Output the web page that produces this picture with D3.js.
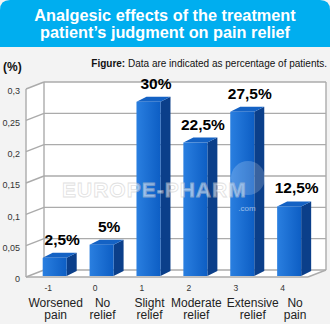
<!DOCTYPE html>
<html><head><meta charset="utf-8">
<script src="https://cdn.jsdelivr.net/npm/d3@7"></script>
<style>
html,body{margin:0;padding:0;background:#f3f3f3;}
svg{display:block;font-family:"Liberation Sans",Arial,sans-serif;}
</style></head>
<body>
<svg id="c" width="330" height="324"></svg>
<script>
const categories = ["-1","0","1","2","3","4"];
const categoryNames = [["Worsened","pain"],["No","relief"],["Slight","relief"],["Moderate","relief"],["Extensive","relief"],["No","pain"]];
const values = [0.029,0.05,0.278,0.213,0.262,0.111];
const valueLabels = ["2,5%","5%","30%","22,5%","27,5%","12,5%"];
const yTicks = [0,0.05,0.1,0.15,0.2,0.25,0.3];
const yTickLabels = ["0","0,05","0,1","0,15","0,2","0,25","0,3"];
const titleLines = ["Analgesic effects of the treatment","patient\u2019s judgment on pain relief"];

const svg = d3.select("#c");
const W = 330, H = 324;
svg.append("rect").attr("width",W).attr("height",H).attr("fill","#f3f3f3");

// title box
svg.append("path")
  .attr("d","M0,47 L0,10 Q0,0 10,0 L320,0 Q330,0 330,10 L330,47 Z")
  .attr("fill","#00aeef");
svg.selectAll("text.title").data(titleLines).join("text")
  .attr("class","title")
  .attr("x",165).attr("y",(d,i)=>21+i*17)
  .attr("text-anchor","middle").attr("fill","#fff")
  .attr("font-size",16.3).attr("font-weight","bold").text(d=>d);

// subtitle
const sub = svg.append("text").attr("x",327).attr("y",67).attr("text-anchor","end")
  .attr("font-size",10).attr("fill","#111");
sub.append("tspan").attr("font-weight","bold").text("Figure:");
sub.append("tspan").text(" Data are indicated as percentage of patients.");
svg.append("text").attr("x",3).attr("y",71).attr("font-size",12).attr("font-weight","bold")
  .attr("fill","#111").text("(%)");

// scales
const x = d3.scaleBand().domain(categories).range([31.25,312.6]).paddingInner(0.488).paddingOuter(0.244);
const y = d3.scaleLinear().domain([0,0.3]).range([277,89]);
const DX = 18, DY = -7;
const xL = 26, xR = 308;

// walls
const g = svg.append("g");
g.append("polygon").attr("fill","#fff")
  .attr("points",[[xL+DX,y(0.3)+DY],[xR+DX,y(0.3)+DY],[xR+DX,y(0)+DY],[xL+DX,y(0)+DY]].join(" "));
g.append("polygon").attr("fill","#fff")
  .attr("points",[[xL,y(0.3)],[xL+DX,y(0.3)+DY],[xL+DX,y(0)+DY],[xL,y(0)]].join(" "));
g.append("polygon").attr("fill","#fff")
  .attr("points",[[xL,y(0)],[xL+DX,y(0)+DY],[xR+DX,y(0)+DY],[xR,y(0)]].join(" "));

const lc = "#ababab", lw = 1.4;
// grid lines
g.selectAll("line.gb").data(yTicks).join("line")
  .attr("x1",xL+DX).attr("x2",xR+DX).attr("y1",d=>y(d)+DY).attr("y2",d=>y(d)+DY)
  .attr("stroke",lc).attr("stroke-width",lw);
g.selectAll("line.gd").data(yTicks).join("line")
  .attr("x1",xL).attr("x2",xL+DX).attr("y1",d=>y(d)).attr("y2",d=>y(d)+DY)
  .attr("stroke",lc).attr("stroke-width",lw);
[[xL,y(0.3),xL,y(0)],[xL+DX,y(0.3)+DY,xL+DX,y(0)+DY],[xR+DX,y(0.3)+DY,xR+DX,y(0)+DY],
 [xL,y(0),xR,y(0)],[xR,y(0),xR+DX,y(0)+DY]].forEach(l=>{
  g.append("line").attr("x1",l[0]).attr("y1",l[1]).attr("x2",l[2]).attr("y2",l[3])
    .attr("stroke",lc).attr("stroke-width",lw);
});

// y axis labels
const yAxis = d3.axisLeft(y).tickValues(yTicks).tickSize(0).tickPadding(0)
  .tickFormat((d,i)=>yTickLabels[i]);
const ya = svg.append("g").attr("transform","translate(20,2)").call(yAxis);
ya.select(".domain").remove();
ya.selectAll("text").attr("font-size",9).attr("fill","#333").attr("font-family","Liberation Sans, Arial, sans-serif");

// bars
const defs = svg.append("defs");
const grad = defs.append("linearGradient").attr("id","fg").attr("x1",0).attr("x2",1).attr("y1",0).attr("y2",0);
grad.append("stop").attr("offset","0%").attr("stop-color","#2a7fe0");
grad.append("stop").attr("offset","100%").attr("stop-color","#0d5ec4");
const bw = x.bandwidth(), bdx = 10, bdy = -5;
const yb = v => y(v) - 1;
const bars = svg.append("g").selectAll("g").data(values).join("g");
bars.append("polygon").attr("fill","#0b3f8a")
  .attr("points",(d,i)=>{const x0=x(categories[i])+bw;return [[x0,yb(d)],[x0+bdx,yb(d)+bdy],[x0+bdx,yb(0)+bdy],[x0,yb(0)]].join(" ");});
bars.append("polygon").attr("fill","#1462c4")
  .attr("points",(d,i)=>{const x0=x(categories[i]);return [[x0,yb(d)],[x0+bdx,yb(d)+bdy],[x0+bw+bdx,yb(d)+bdy],[x0+bw,yb(d)]].join(" ");});
bars.append("rect").attr("fill","url(#fg)")
  .attr("x",(d,i)=>x(categories[i])).attr("width",bw)
  .attr("y",d=>yb(d)).attr("height",d=>yb(0)-yb(d));

// value labels
svg.append("g").selectAll("text").data(values).join("text")
  .attr("x",(d,i)=>x(categories[i])+bw/2+7.5).attr("y",d=>yb(d)-13)
  .attr("text-anchor","middle").attr("font-size",15.5).attr("font-weight","bold")
  .attr("fill","#000").text((d,i)=>valueLabels[i]);

// watermark
const wm = svg.append("g").attr("opacity",0.55);
wm.append("text").attr("x",62).attr("y",197).attr("font-size",21).attr("font-weight","bold")
  .attr("letter-spacing",1).attr("fill","#fff").attr("stroke","#c8c8c8").attr("stroke-width",0.8)
  .text("EUROPE-PHARM");
wm.append("circle").attr("cx",248).attr("cy",178).attr("r",17).attr("fill","#fff").attr("opacity",0.35);
wm.append("text").attr("x",247).attr("y",211).attr("text-anchor","middle").attr("font-size",8)
  .attr("fill","#fff").text(".com");

// x axis numbers
const xAxis = d3.axisBottom(x).tickSize(0).tickPadding(0);
const xa = svg.append("g").attr("transform","translate(-6.5,285)").call(xAxis);
xa.select(".domain").remove();
xa.selectAll("text").attr("font-size",8.5).attr("fill","#333").attr("font-family","Liberation Sans, Arial, sans-serif");

// category names: one text per line, centred on bar, pushed apart if crowded
const nameG = svg.append("g");
const groups = categoryNames.map((lines,i)=>{
  const cx = x(categories[i]) + bw/2 + 1;
  const texts = lines.map((t,j)=>nameG.append("text").attr("text-anchor","middle")
    .attr("font-size",12).attr("fill","#222").attr("x",cx).attr("y",306.5+j*12.6).text(t));
  const w = d3.max(texts, t=>t.node().getComputedTextLength());
  return {cx, w, texts};
});
for (let i=1;i<groups.length;i++){
  const p = groups[i-1], c = groups[i];
  const minC = p.cx + p.w/2 + 5 + c.w/2;
  if (c.cx < minC) c.cx = minC;
}
groups.forEach(gr=>gr.texts.forEach(t=>t.attr("x",gr.cx)));
</script>
</body></html>
